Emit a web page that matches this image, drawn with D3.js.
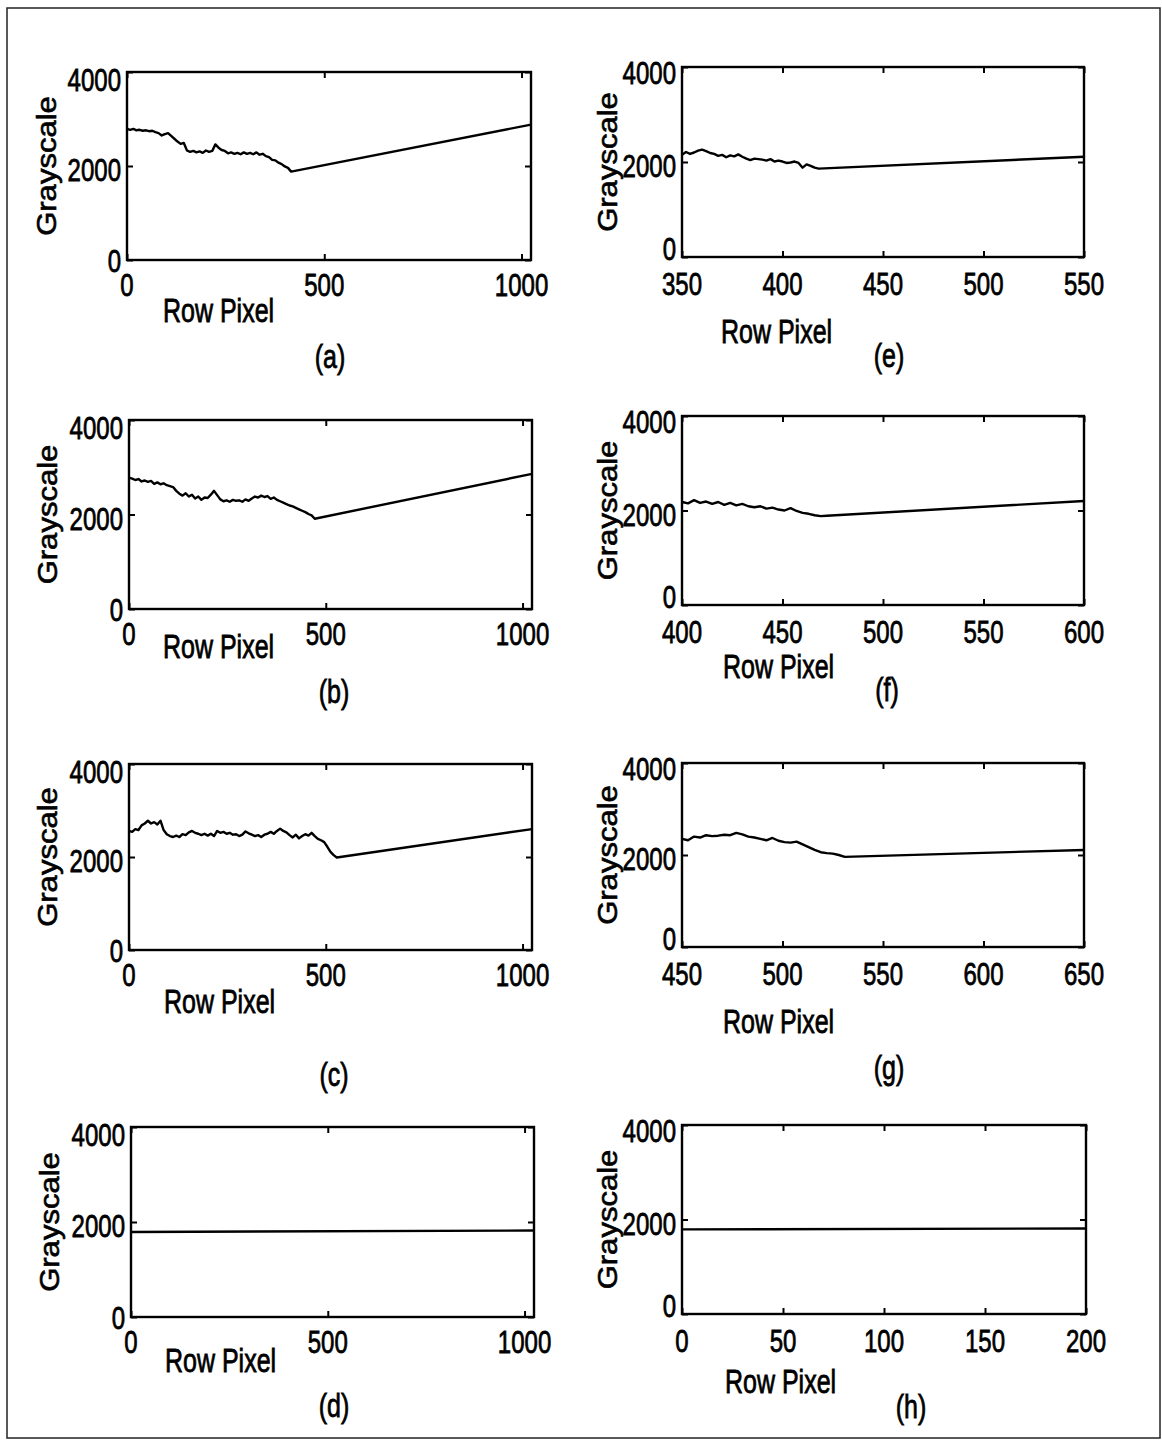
<!DOCTYPE html>
<html>
<head>
<meta charset="utf-8">
<script src="https://cdn.jsdelivr.net/npm/d3@7"></script>
<style>
  html, body { margin: 0; padding: 0; background: #fff; }
  svg { display: block; }
  text { font-family: "Liberation Sans", Arial, Helvetica, sans-serif; fill: #000; }
</style>
</head>
<body>
<svg id="chart" width="1162" height="1441"></svg>
<script>
// ---------------- data ----------------
const yTicks = [0, 2000, 4000];
const xTicksFull = [0, 500, 1000];
const xTicksE = [350, 400, 450, 500, 550];
const xTicksF = [400, 450, 500, 550, 600];
const xTicksG = [450, 500, 550, 600, 650];
const xTicksH = [0, 50, 100, 150, 200];
const panelLetters = ["(a)", "(b)", "(c)", "(d)", "(e)", "(f)", "(g)", "(h)"];
const xTitle = "Row Pixel";
const yTitle = "Grayscale";

const aX = [0,8,16,24,32,40,48,56,64,72,80,88,96,104,112,120,128,136,144,152,160,168,176,184,192,200,208,216,224,232,240,248,256,264,272,280,288,296,304,312,320,328,336,344,352,360,368,376,384,392,400,408,416,1024];
const aY = [2790,2770,2790,2760,2770,2750,2760,2740,2750,2720,2700,2650,2680,2700,2640,2580,2520,2470,2490,2330,2300,2320,2290,2310,2280,2330,2300,2320,2460,2390,2340,2320,2270,2290,2260,2280,2250,2290,2260,2280,2250,2290,2240,2260,2210,2190,2130,2120,2070,2040,1990,1960,1880,2880];

const bX = [0,8,16,24,32,40,48,56,64,72,80,88,96,104,112,120,128,136,144,152,160,168,176,184,192,200,208,216,224,232,240,248,256,264,272,280,288,296,304,312,320,328,336,344,352,360,368,376,384,392,400,408,416,424,432,440,448,456,464,472,1024];
const bY = [2780,2760,2730,2750,2700,2720,2690,2710,2650,2680,2640,2660,2620,2600,2580,2500,2440,2400,2450,2380,2420,2340,2380,2310,2360,2350,2420,2500,2410,2320,2280,2300,2270,2310,2290,2300,2270,2320,2290,2340,2380,2360,2400,2370,2390,2330,2360,2310,2280,2250,2220,2190,2170,2140,2110,2080,2050,2010,1980,1910,2860];

const cX = [0,8,16,24,32,40,48,56,64,72,80,88,96,104,112,120,128,136,144,152,160,168,176,184,192,200,208,216,224,232,240,248,256,264,272,280,288,296,304,312,320,328,336,344,352,360,368,376,384,392,400,408,416,424,432,440,448,456,464,472,480,488,496,504,512,520,528,1024];
const cY = [2560,2540,2600,2580,2680,2720,2780,2720,2750,2700,2780,2580,2490,2450,2430,2460,2430,2490,2470,2530,2560,2520,2500,2470,2500,2460,2500,2450,2560,2520,2540,2500,2520,2480,2490,2450,2480,2550,2510,2480,2450,2470,2430,2480,2500,2540,2500,2560,2610,2560,2530,2470,2420,2480,2400,2450,2490,2460,2520,2450,2390,2360,2320,2220,2110,2040,1990,2600];

const dX = [0, 1024];
const dY = [1790, 1820];

const eX = [350,352,354,356,358,360,362,364,366,368,370,372,374,376,378,380,382,384,386,388,390,392,394,396,398,400,402,404,406,408,410,412,414,416,418,550];
const eY = [2150,2210,2170,2200,2240,2260,2230,2190,2170,2130,2150,2100,2140,2120,2160,2110,2070,2040,2070,2060,2050,2030,2060,2010,2030,2010,1980,1990,2010,1980,1880,1950,1920,1880,1860,2110];

const fX = [400,403,406,409,412,415,418,421,424,427,430,433,436,439,442,445,448,451,454,457,460,463,466,469,472,600];
const fY = [2180,2150,2220,2160,2190,2140,2180,2120,2160,2110,2140,2090,2070,2090,2040,2060,2020,2000,2050,1990,1950,1930,1900,1880,1890,2200];

const gX = [450,453,456,459,462,465,468,471,474,477,480,483,486,489,492,495,498,501,504,507,510,513,516,519,522,525,528,531,650];
const gY = [2350,2320,2400,2380,2430,2410,2420,2440,2430,2480,2450,2400,2380,2350,2320,2370,2310,2280,2270,2290,2230,2170,2110,2060,2040,2030,2000,1960,2110];

const hX = [0, 200];
const hY = [1790, 1810];

// ---------------- layout (positions only) ----------------
const panels = [
  {xs:aX, ys:aY, dom:[0,1024], xt:xTicksFull, x0:127, x1:531, y0:72,  y1:260, rp:[163,322],  lab:[330,368],  gx:56, right:false},
  {xs:bX, ys:bY, dom:[0,1024], xt:xTicksFull, x0:129, x1:532, y0:420, y1:609, rp:[163,658],  lab:[334,703],  gx:57, right:false},
  {xs:cX, ys:cY, dom:[0,1024], xt:xTicksFull, x0:129, x1:532, y0:764, y1:950, rp:[164,1013], lab:[334,1086], gx:57, right:false},
  {xs:dX, ys:dY, dom:[0,1024], xt:xTicksFull, x0:131, x1:534, y0:1127,y1:1317,rp:[165,1372], lab:[334,1417], gx:59, right:false},
  {xs:eX, ys:eY, dom:[350,550], xt:xTicksE,   x0:682, x1:1084,y0:67,  y1:257, rp:[721,343],  lab:[889,367],  gx:617, right:true},
  {xs:fX, ys:fY, dom:[400,600], xt:xTicksF,   x0:682, x1:1084,y0:416, y1:605, rp:[723,678],  lab:[887,701],  gx:617, right:true},
  {xs:gX, ys:gY, dom:[450,650], xt:xTicksG,   x0:682, x1:1084,y0:763, y1:947, rp:[723,1033], lab:[889,1079], gx:617, right:true},
  {xs:hX, ys:hY, dom:[0,200],   xt:xTicksH,   x0:682, x1:1086,y0:1125,y1:1314,rp:[725,1393], lab:[911,1418], gx:617, right:true}
];

const svg = d3.select("#chart");
svg.append("rect").attr("x",0).attr("y",0).attr("width",1162).attr("height",1441).attr("fill","#fff");
// outer frame
svg.append("rect").attr("x",7).attr("y",8).attr("width",1153).attr("height",1430)
  .attr("fill","none").attr("stroke","#222").attr("stroke-width",1.5);

function txt(g, str, x, y, fs, anchor, rot, sy) {
  g.append("text")
    .attr("transform", `translate(${x},${y}) scale(1,${sy || 1.3})` + (rot ? " rotate(-90)" : ""))
    .attr("text-anchor", anchor)
    .style("font-size", fs + "px")
    .style("stroke", "#000").style("stroke-width", 0.6)
    .text(str);
}

const yOffL = {0: 1, 2000: 4, 4000: 8};
const yOffR = {0: -8, 2000: 4, 4000: 6};

panels.forEach((p, i) => {
  const g = svg.append("g");
  const x = d3.scaleLinear().domain(p.dom).range([p.x0, p.x1]);
  const y = d3.scaleLinear().domain([0, 4000]).range([p.y1, p.y0]);

  const tk = 6;
  const axes = [
    [d3.axisBottom(x).tickValues(p.xt), `translate(0,${p.y1})`],
    [d3.axisTop(x).tickValues(p.xt), `translate(0,${p.y0})`],
    [d3.axisLeft(y).tickValues(yTicks), `translate(${p.x0},0)`],
    [d3.axisRight(y).tickValues(yTicks), `translate(${p.x1},0)`]
  ];
  axes.forEach(([ax, tr]) => {
    const a = g.append("g").attr("transform", tr)
      .call(ax.tickSize(-tk).tickFormat("").tickSizeOuter(0));
    a.select(".domain").remove();
    a.selectAll("line").attr("stroke", "#000").attr("stroke-width", 2);
  });

  g.append("rect").attr("x", p.x0).attr("y", p.y0)
    .attr("width", p.x1 - p.x0).attr("height", p.y1 - p.y0)
    .attr("fill", "none").attr("stroke", "#000").attr("stroke-width", 2.4);

  const pts = p.xs.map((v, k) => [v, p.ys[k]]);
  const line = d3.line().x(d => x(d[0])).y(d => y(d[1]));
  g.append("path").datum(pts).attr("d", line)
    .attr("fill", "none").attr("stroke", "#000").attr("stroke-width", 2.4)
    .attr("stroke-linejoin", "round");

  // tick labels
  const yOff = p.right ? yOffR : yOffL;
  const xLabDy = p.right ? 38 : 36;
  p.xt.forEach(v => txt(g, String(v), x(v), p.y1 + xLabDy, 24, "middle"));
  yTicks.forEach(v => txt(g, String(v), p.x0 - 6, y(v) + yOff[v] + 11, 24, "end"));

  txt(g, xTitle, p.rp[0], p.rp[1], 25, "start");
  txt(g, yTitle, p.gx, (p.y0 + p.y1) / 2, 27, "middle", true, 1.15);
  txt(g, panelLetters[i], p.lab[0], p.lab[1], 25, "middle");
});
</script>
</body>
</html>
